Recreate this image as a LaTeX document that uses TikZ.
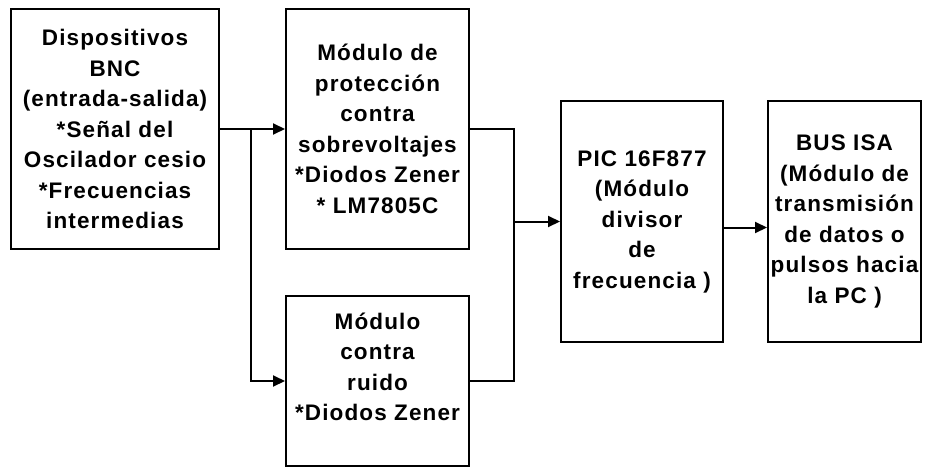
\documentclass[tikz,border=0pt]{standalone}
\usepackage{fontspec}
\setmainfont{Liberation Sans}[LetterSpace=5]
\usetikzlibrary{arrows.meta}
\begin{document}
\begin{tikzpicture}[x=1pt,y=-1pt,
  box/.style={draw=black,line width=2pt,inner sep=0pt,align=center,
    font=\fontsize{22.5}{30.5}\selectfont\bfseries},
  txt/.style={inner sep=0pt,align=center,font=\fontsize{22.5}{30.5}\selectfont\bfseries},
  wire/.style={line width=2pt},
  arr/.style={line width=2pt,-{Triangle[length=12pt,width=11pt]}}]
\useasboundingbox (0,0) rectangle (925,468);
\node[box,minimum width=208,minimum height=240] (b1) at (115,129)
  {Dispositivos\\BNC\\(entrada-salida)\\*Señal del\\Oscilador cesio\\*Frecuencias\\intermedias};
\node[box,minimum width=183,minimum height=240] (b2) at (377.5,129)
  {Módulo de\\protección\\contra\\sobrevoltajes\\*Diodos Zener\\* LM7805C};
\node[box,minimum width=183,minimum height=170] (b3) at (377.5,381) {};
\node[txt] (t3) at (377.5,367) {Módulo\\contra\\ruido\\*Diodos Zener};
\node[box,minimum width=162,minimum height=241] (pic) at (642,221.5)
  {PIC 16F877\\(Módulo\\divisor\\de\\frecuencia )};
\node[box,minimum width=153,minimum height=241] (bus) at (844.5,221.5)
  {BUS ISA\\(Módulo de\\transmisión\\de datos o\\pulsos hacia\\la PC )};
\coordinate (j1) at (251,129);
\coordinate (m1) at (514,129);
\coordinate (m2) at (514,381);
\coordinate (m3) at (514,221.5);
\draw[arr] (b1.east) -- (b2.west);
\draw[arr] (j1) |- (b3.west);
\draw[wire] (b2.east) -- (m1) -- (m2) -- (b3.east);
\draw[arr] (m3) -- (pic.west);
\draw[arr] ([yshift=-6pt]pic.east) -- ([yshift=-6pt]bus.west);
\end{tikzpicture}
\end{document}
